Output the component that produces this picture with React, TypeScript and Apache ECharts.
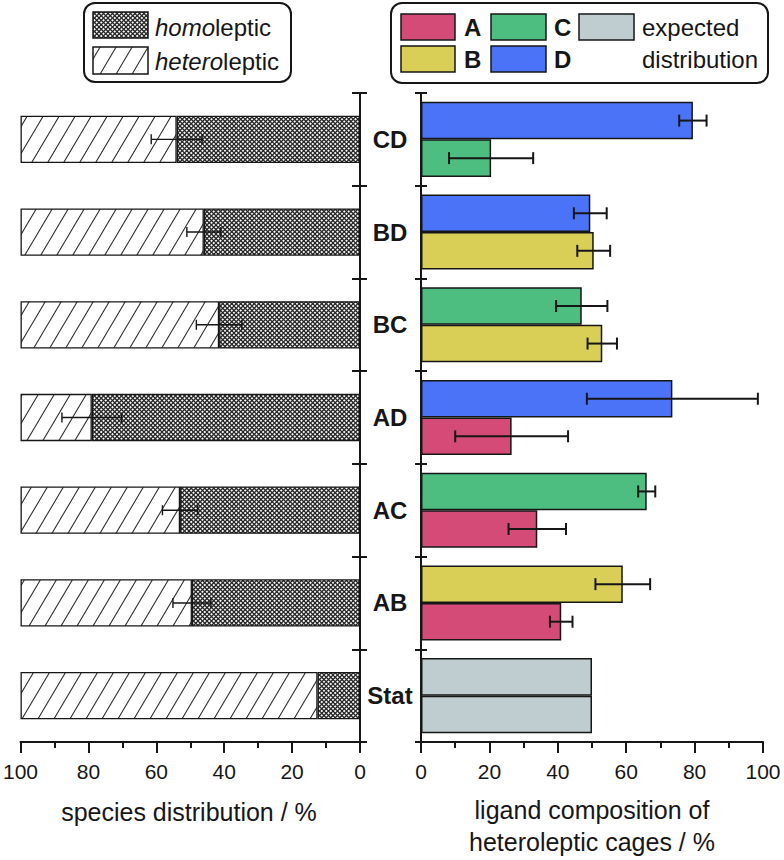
import React, { useEffect, useRef } from "react";
import * as echarts from "echarts";

// ---------- data (top-to-bottom order as in the figure) ----------
const categories = ["CD", "BD", "BC", "AD", "AC", "AB", "Stat"];
const homoleptic = [54, 46, 41.5, 79, 53, 49.5, 12.5];
const heteroleptic = [46, 54, 58.5, 21, 47, 50.5, 87.5];
const homolepticErr = [7.5, 5, 6.7, 8.8, 5.2, 5.6, 0];

const upperLigand = ["D", "D", "C", "D", "C", "B", "E"];
const upperShare = [79.5, 49.5, 47, 73.5, 66, 59, 50];
const upperErr = [4, 4.8, 7.5, 25, 2.5, 8, 0];
const lowerLigand = ["C", "B", "B", "A", "A", "A", "E"];
const lowerShare = [20.5, 50.5, 53, 26.5, 34, 41, 50];
const lowerErr = [12.3, 4.8, 4.3, 16.5, 8.4, 3.3, 0];

const ligandColors: Record<string, string> = {
  A: "#d44b77",
  B: "#d9cf57",
  C: "#4dbe7f",
  D: "#4a73f7",
  E: "#bfcdd0",
};

const FONT = "'Liberation Sans', Arial, Helvetica, sans-serif";
const INK = "#161616";

function makeTile(w: number, h: number, draw: (ctx: CanvasRenderingContext2D) => void) {
  const c = document.createElement("canvas");
  c.width = w;
  c.height = h;
  const ctx = c.getContext("2d")!;
  ctx.fillStyle = "#ffffff";
  ctx.fillRect(0, 0, w, h);
  draw(ctx);
  return { image: c.toDataURL(), repeat: "repeat", imageWidth: w, imageHeight: h } as any;
}

export default function App() {
  const ref = useRef<HTMLDivElement>(null);

  useEffect(() => {
    if (!ref.current) return;
    const diag = makeTile(16, 27, (ctx) => {
      ctx.strokeStyle = "#2a2a2a";
      ctx.lineWidth = 1.1;
      const W = 16, H = 27;
      for (let k = -1; k <= 1; k++) {
        ctx.beginPath();
        ctx.moveTo(k * W - W, 2 * H);
        ctx.lineTo(k * W + 2 * W, -H);
        ctx.stroke();
      }
    });
    const cross = makeTile(9, 9, (ctx) => {
      ctx.strokeStyle = "#262626";
      ctx.lineWidth = 1.25;
      for (let c = -9; c <= 18; c += 4.5) {
        ctx.beginPath();
        ctx.moveTo(-2, c - 2);
        ctx.lineTo(11, c + 11);
        ctx.stroke();
        ctx.beginPath();
        ctx.moveTo(-2, c + 2);
        ctx.lineTo(11, c - 11);
        ctx.stroke();
      }
    });

    const chart = echarts.init(ref.current, null, { renderer: "svg" });
    const yCats = [...categories].reverse();
    const idx = (i: number) => categories.length - 1 - i;

    const axisLineStyle = { color: INK, width: 2 };
    const xAxisCommon = (gridIndex: number, inverse: boolean) => ({
      type: "value",
      gridIndex,
      min: 0,
      max: 100,
      interval: 20,
      inverse,
      position: "bottom",
      axisLine: { show: true, lineStyle: axisLineStyle },
      axisTick: { show: true, length: 11, lineStyle: { color: INK, width: 2 } },
      minorTick: { show: true, splitNumber: 2, length: 6, lineStyle: { color: INK, width: 2 } },
      splitLine: { show: false },
      axisLabel: { fontSize: 21, fontFamily: FONT, color: INK, margin: 19 },
    });

    const leftErrData = categories
      .map((c, i) => [homoleptic[i], idx(i), homolepticErr[i]])
      .filter((d) => d[2] > 0);
    const rightErrData: number[][] = [];
    categories.forEach((c, i) => {
      if (upperErr[i] > 0) rightErrData.push([upperShare[i], idx(i), upperErr[i], -1]);
      if (lowerErr[i] > 0) rightErrData.push([lowerShare[i], idx(i), lowerErr[i], 1]);
    });

    const errRender = (lw: number, cap: number, offFrac: number) => (params: any, api: any) => {
      const v = api.value(0);
      const c = api.value(1);
      const e = api.value(2);
      const side = api.value(3) || 0;
      const band = api.size([0, 1])[1];
      const p1 = api.coord([v - e, c]);
      const p2 = api.coord([v + e, c]);
      const y = p1[1] + side * offFrac * band;
      const style = { stroke: INK, lineWidth: lw, fill: "none" };
      return {
        type: "group",
        children: [
          { type: "line", shape: { x1: p1[0], y1: y, x2: p2[0], y2: y }, style },
          { type: "line", shape: { x1: p1[0], y1: y - cap, x2: p1[0], y2: y + cap }, style },
          { type: "line", shape: { x1: p2[0], y1: y - cap, x2: p2[0], y2: y + cap }, style },
        ],
      };
    };

    const textStyle = (t: string, x: number, y: number, extra: any = {}) => ({
      type: "text",
      x,
      y,
      z: 101,
      style: {
        text: t,
        fontSize: 24,
        fontFamily: FONT,
        fill: INK,
        verticalAlign: "middle",
        align: "left",
        ...extra,
      },
    });
    const swatch = (x: number, y: number, w: number, h: number, fill: any) => ({
      type: "rect",
      z: 101,
      shape: { x, y, width: w, height: h },
      style: { fill, stroke: INK, lineWidth: 1.5 },
    });

    chart.setOption({
      animation: false,
      grid: [
        { left: 19, top: 93, width: 341, height: 649 },
        { left: 421, top: 93, width: 342, height: 649 },
      ],
      xAxis: [xAxisCommon(0, true), xAxisCommon(1, false)],
      yAxis: [
        {
          type: "category",
          gridIndex: 0,
          data: yCats,
          position: "right",
          axisLine: { show: true, lineStyle: axisLineStyle },
          axisTick: { show: true, interval: 0, length: 7, lineStyle: { color: INK, width: 2 } },
          axisLabel: {
            show: true,
            align: "center",
            margin: 30,
            fontSize: 24,
            fontWeight: "bold",
            fontFamily: FONT,
            color: INK,
          },
          splitLine: { show: false },
        },
        {
          type: "category",
          gridIndex: 0,
          data: yCats,
          position: "right",
          axisLine: { show: false },
          axisTick: { show: true, inside: true, interval: 0, length: 8, lineStyle: { color: INK, width: 2 } },
          axisLabel: { show: false },
          splitLine: { show: false },
        },
        {
          type: "category",
          gridIndex: 1,
          data: yCats,
          position: "left",
          axisLine: { show: true, lineStyle: axisLineStyle },
          axisTick: { show: true, interval: 0, length: 6, lineStyle: { color: INK, width: 2 } },
          axisLabel: { show: false },
          splitLine: { show: false },
        },
        {
          type: "category",
          gridIndex: 1,
          data: yCats,
          position: "left",
          axisLine: { show: false },
          axisTick: { show: true, inside: true, interval: 0, length: 6, lineStyle: { color: INK, width: 2 } },
          axisLabel: { show: false },
          splitLine: { show: false },
        },
      ],
      series: [
        {
          type: "bar",
          name: "homoleptic",
          stack: "dist",
          xAxisIndex: 0,
          yAxisIndex: 0,
          barCategoryGap: "49%",
          data: [...homoleptic].reverse(),
          itemStyle: { color: cross, borderColor: INK, borderWidth: 1.3 },
        },
        {
          type: "bar",
          name: "heteroleptic",
          stack: "dist",
          xAxisIndex: 0,
          yAxisIndex: 0,
          barCategoryGap: "49%",
          data: [...heteroleptic].reverse(),
          itemStyle: { color: diag, borderColor: INK, borderWidth: 1.3 },
        },
        {
          type: "custom",
          xAxisIndex: 0,
          yAxisIndex: 0,
          clip: false,
          silent: true,
          z: 10,
          encode: { x: 0, y: 1 },
          data: leftErrData,
          renderItem: errRender(1.4, 5, 0),
        },
        {
          type: "bar",
          name: "upper",
          xAxisIndex: 1,
          yAxisIndex: 2,
          barGap: "0%",
          barCategoryGap: "19%",
          data: [...upperShare].reverse().map((v, j) => ({
            value: v,
            itemStyle: { color: ligandColors[upperLigand[idx(j)]] },
          })),
          itemStyle: { borderColor: INK, borderWidth: 1.5 },
        },
        {
          type: "bar",
          name: "lower",
          xAxisIndex: 1,
          yAxisIndex: 2,
          barGap: "0%",
          barCategoryGap: "19%",
          data: [...lowerShare].reverse().map((v, j) => ({
            value: v,
            itemStyle: { color: ligandColors[lowerLigand[idx(j)]] },
          })),
          itemStyle: { borderColor: INK, borderWidth: 1.5 },
        },
        {
          type: "custom",
          xAxisIndex: 1,
          yAxisIndex: 2,
          clip: false,
          silent: true,
          z: 10,
          encode: { x: 0, y: 1 },
          data: rightErrData,
          renderItem: errRender(2, 6, 0.2025),
        },
      ],
      graphic: [
        {
          type: "rect",
          z: 100,
          shape: { x: 84, y: 3, width: 207, height: 79, r: 11 },
          style: { fill: "#fff", stroke: INK, lineWidth: 2 },
        },
        swatch(93, 12, 55, 26, cross),
        swatch(93, 47, 55, 27, diag),
        textStyle("{i|homo}leptic", 155, 27, {
          rich: { i: { fontStyle: "italic", fontSize: 24, fontFamily: FONT, fill: INK } },
        }),
        textStyle("{i|hetero}leptic", 155, 61, {
          rich: { i: { fontStyle: "italic", fontSize: 24, fontFamily: FONT, fill: INK } },
        }),
        {
          type: "rect",
          z: 100,
          shape: { x: 391, y: 3, width: 377, height: 80, r: 11 },
          style: { fill: "#fff", stroke: INK, lineWidth: 2 },
        },
        swatch(401, 14, 54, 26, ligandColors.A),
        swatch(401, 46, 54, 26, ligandColors.B),
        swatch(491, 14, 55, 26, ligandColors.C),
        swatch(491, 46, 55, 26, ligandColors.D),
        swatch(579, 14, 55, 26, ligandColors.E),
        textStyle("A", 464, 27, { fontWeight: "bold" }),
        textStyle("B", 464, 59, { fontWeight: "bold" }),
        textStyle("C", 554, 27, { fontWeight: "bold" }),
        textStyle("D", 554, 59, { fontWeight: "bold" }),
        textStyle("expected", 642, 27),
        textStyle("distribution", 642, 59),
        textStyle("species distribution / %", 189, 812, { align: "center", fontSize: 25 }),
        textStyle("ligand composition of", 592, 810, { align: "center", fontSize: 25 }),
        textStyle("heteroleptic cages / %", 592, 842, { align: "center", fontSize: 25 }),
      ],
    });

    return () => chart.dispose();
  }, []);

  return (
    <div
      ref={ref}
      style={{ position: "fixed", left: 0, top: 0, width: 784, height: 860, background: "#fff" }}
    />
  );
}
